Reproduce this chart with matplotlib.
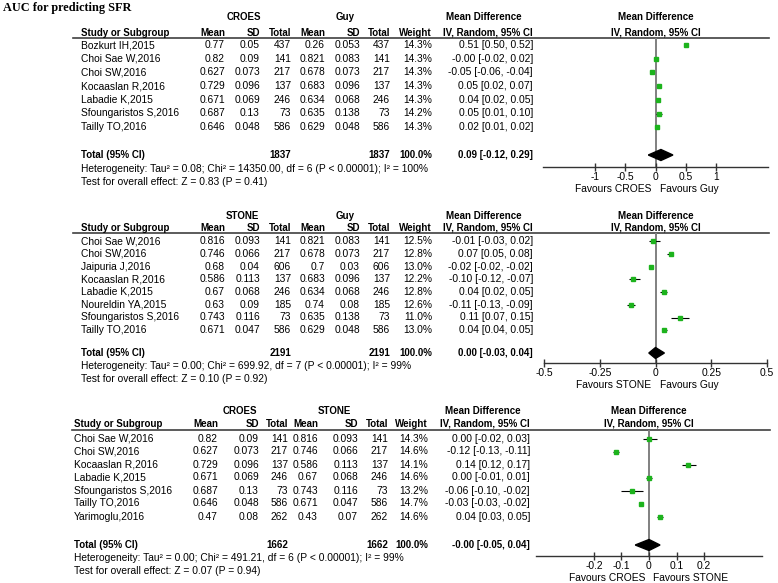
import numpy as np
import matplotlib.pyplot as plt
from matplotlib.patches import Polygon

plt.rcParams['font.family'] = ['Liberation Sans', 'DejaVu Sans']

W, H = 778, 583
GREEN = '#1db31d'

title = 'AUC for predicting SFR'

# ---- panel 1: CROES vs Guy
p1_groups = ['CROES', 'Guy']
p1_studies = ['Bozkurt IH,2015', 'Choi Sae W,2016', 'Choi SW,2016', 'Kocaaslan R,2016',
              'Labadie K,2015', 'Sfoungaristos S,2016', 'Tailly TO,2016']
p1_mean1 = [0.77, 0.82, 0.627, 0.729, 0.671, 0.687, 0.646]
p1_sd1 = [0.05, 0.09, 0.073, 0.096, 0.069, 0.13, 0.048]
p1_n1 = [437, 141, 217, 137, 246, 73, 586]
p1_mean2 = [0.26, 0.821, 0.678, 0.683, 0.634, 0.635, 0.629]
p1_sd2 = [0.053, 0.083, 0.073, 0.096, 0.068, 0.138, 0.048]
p1_n2 = [437, 141, 217, 137, 246, 73, 586]
p1_weight = [14.3, 14.3, 14.3, 14.3, 14.3, 14.2, 14.3]
p1_md = [0.51, -0.0, -0.05, 0.05, 0.04, 0.05, 0.02]
p1_lo = [0.50, -0.02, -0.06, 0.02, 0.02, 0.01, 0.01]
p1_hi = [0.52, 0.02, -0.04, 0.07, 0.05, 0.10, 0.02]
p1_total = [0.09, -0.12, 0.29]
p1_total_n = [1837, 1837]
p1_het = 'Heterogeneity: Tau\u00b2 = 0.08; Chi\u00b2 = 14350.00, df = 6 (P < 0.00001); I\u00b2 = 100%'
p1_test = 'Test for overall effect: Z = 0.83 (P = 0.41)'
p1_ticks = [-1, -0.5, 0, 0.5, 1]
p1_ticklabels = ['-1', '-0.5', '0', '0.5', '1']

# ---- panel 2: STONE vs Guy
p2_groups = ['STONE', 'Guy']
p2_studies = ['Choi Sae W,2016', 'Choi SW,2016', 'Jaipuria J,2016', 'Kocaaslan R,2016',
              'Labadie K,2015', 'Noureldin YA,2015', 'Sfoungaristos S,2016', 'Tailly TO,2016']
p2_mean1 = [0.816, 0.746, 0.68, 0.586, 0.67, 0.63, 0.743, 0.671]
p2_sd1 = [0.093, 0.066, 0.04, 0.113, 0.068, 0.09, 0.116, 0.047]
p2_n1 = [141, 217, 606, 137, 246, 185, 73, 586]
p2_mean2 = [0.821, 0.678, 0.7, 0.683, 0.634, 0.74, 0.635, 0.629]
p2_sd2 = [0.083, 0.073, 0.03, 0.096, 0.068, 0.08, 0.138, 0.048]
p2_n2 = [141, 217, 606, 137, 246, 185, 73, 586]
p2_weight = [12.5, 12.8, 13.0, 12.2, 12.8, 12.6, 11.0, 13.0]
p2_md = [-0.01, 0.07, -0.02, -0.10, 0.04, -0.11, 0.11, 0.04]
p2_lo = [-0.03, 0.05, -0.02, -0.12, 0.02, -0.13, 0.07, 0.04]
p2_hi = [0.02, 0.08, -0.02, -0.07, 0.05, -0.09, 0.15, 0.05]
p2_total = [0.00, -0.03, 0.04]
p2_total_n = [2191, 2191]
p2_het = 'Heterogeneity: Tau\u00b2 = 0.00; Chi\u00b2 = 699.92, df = 7 (P < 0.00001); I\u00b2 = 99%'
p2_test = 'Test for overall effect: Z = 0.10 (P = 0.92)'
p2_ticks = [-0.5, -0.25, 0, 0.25, 0.5]
p2_ticklabels = ['-0.5', '-0.25', '0', '0.25', '0.5']

# ---- panel 3: CROES vs STONE
p3_groups = ['CROES', 'STONE']
p3_studies = ['Choi Sae W,2016', 'Choi SW,2016', 'Kocaaslan R,2016', 'Labadie K,2015',
              'Sfoungaristos S,2016', 'Tailly TO,2016', 'Yarimoglu,2016']
p3_mean1 = [0.82, 0.627, 0.729, 0.671, 0.687, 0.646, 0.47]
p3_sd1 = [0.09, 0.073, 0.096, 0.069, 0.13, 0.048, 0.08]
p3_n1 = [141, 217, 137, 246, 73, 586, 262]
p3_mean2 = [0.816, 0.746, 0.586, 0.67, 0.743, 0.671, 0.43]
p3_sd2 = [0.093, 0.066, 0.113, 0.068, 0.116, 0.047, 0.07]
p3_n2 = [141, 217, 137, 246, 73, 586, 262]
p3_weight = [14.3, 14.6, 14.1, 14.6, 13.2, 14.7, 14.6]
p3_md = [0.00, -0.12, 0.14, 0.00, -0.06, -0.03, 0.04]
p3_lo = [-0.02, -0.13, 0.12, -0.01, -0.10, -0.03, 0.03]
p3_hi = [0.03, -0.11, 0.17, 0.01, -0.02, -0.02, 0.05]
p3_total = [-0.0, -0.05, 0.04]
p3_total_n = [1662, 1662]
p3_het = 'Heterogeneity: Tau\u00b2 = 0.00; Chi\u00b2 = 491.21, df = 6 (P < 0.00001); I\u00b2 = 99%'
p3_test = 'Test for overall effect: Z = 0.07 (P = 0.94)'
p3_ticks = [-0.2, -0.1, 0, 0.1, 0.2]
p3_ticklabels = ['-0.2', '-0.1', '0', '0.1', '0.2']

# layout in pixels (y measured from top)
lay1 = dict(grp_y=17, head_y=32.5, line_y=37.5, row0=45, step=13.7, total_y=155,
            het_y=169, test_y=182, axis_y=167, ax_x=(543, 768), xlim=(-1.87, 1.87),
            study_x=81, cols=[225, 260, 291, 325, 360, 390, 432, 533],
            grp_x=[244, 345], md_x=484, line_x=(73, 769))
lay2 = dict(grp_y=216, head_y=228, line_y=232.5, row0=241, step=12.75, total_y=353,
            het_y=366, test_y=379, axis_y=363, ax_x=(544, 767), xlim=(-0.5, 0.5),
            study_x=81, cols=[225, 260, 291, 325, 360, 390, 432, 533],
            grp_x=[242, 345], md_x=484, line_x=(73, 769))
lay3 = dict(grp_y=411.5, head_y=424, line_y=430, row0=438.5, step=13, total_y=545,
            het_y=558, test_y=571, axis_y=556, ax_x=(536, 762), xlim=(-0.41, 0.41),
            study_x=74, cols=[218, 259, 288, 318, 358, 388, 428, 530],
            grp_x=[240, 334], md_x=483, line_x=(72, 770))

fig = plt.figure(figsize=(W / 100, H / 100), dpi=100)
bg = fig.add_axes([0, 0, 1, 1])
bg.set_xlim(0, W)
bg.set_ylim(H, 0)
bg.axis('off')

FS = 7.35   # regular text
FB = 7.0    # bold headers
bg.text(3, 8, title, family=['Liberation Serif', 'DejaVu Serif'], fontsize=8.8,
        fontweight='bold', va='center', ha='left')


def draw_panel(L, groups, studies, m1, s1, n1, m2, s2, n2, wt, md, lo, hi,
               total, total_n, het, test, ticks, ticklabels):
    c = L['cols']
    # group headers
    bg.text(L['grp_x'][0], L['grp_y'], groups[0], fontsize=FB, fontweight='bold', ha='center', va='center')
    bg.text(L['grp_x'][1], L['grp_y'], groups[1], fontsize=FB, fontweight='bold', ha='center', va='center')
    bg.text(L['md_x'], L['grp_y'], 'Mean Difference', fontsize=FB, fontweight='bold', ha='center', va='center')
    heads = ['Mean', 'SD', 'Total', 'Mean', 'SD', 'Total', 'Weight', 'IV, Random, 95% CI']
    bg.text(L['study_x'], L['head_y'], 'Study or Subgroup', fontsize=FB, fontweight='bold', va='center')
    for x, h in zip(c, heads):
        bg.text(x, L['head_y'], h, fontsize=FB, fontweight='bold', ha='right', va='center')
    bg.plot(L['line_x'], [L['line_y'], L['line_y']], color='#404040', lw=1.2)

    for i, s in enumerate(studies):
        y = L['row0'] + i * L['step']
        vals = [str(m1[i]), str(s1[i]), str(n1[i]), str(m2[i]), str(s2[i]), str(n2[i]),
                f'{wt[i]:.1f}%', f'{md[i]:.2f} [{lo[i]:.2f}, {hi[i]:.2f}]']
        bg.text(L['study_x'], y, s, fontsize=FS, va='center')
        for x, v in zip(c, vals):
            bg.text(x, y, v, fontsize=FS, ha='right', va='center')

    ty = L['total_y']
    bg.text(L['study_x'], ty, 'Total (95% CI)', fontsize=FB, fontweight='bold', va='center')
    bg.text(c[2], ty, str(total_n[0]), fontsize=FB, fontweight='bold', ha='right', va='center')
    bg.text(c[5], ty, str(total_n[1]), fontsize=FB, fontweight='bold', ha='right', va='center')
    bg.text(c[6], ty, '100.0%', fontsize=FB, fontweight='bold', ha='right', va='center')
    bg.text(c[7], ty, f'{total[0]:.2f} [{total[1]:.2f}, {total[2]:.2f}]', fontsize=FB,
            fontweight='bold', ha='right', va='center')
    bg.text(L['study_x'], L['het_y'], het, fontsize=FS, va='center')
    bg.text(L['study_x'], L['test_y'], test, fontsize=FS, va='center')

    # forest plot
    x0, x1 = L['ax_x']
    ax = fig.add_axes([x0 / W, 1 - L['axis_y'] / H, (x1 - x0) / W, (L['axis_y'] - L['line_y']) / H])
    ax.set_xlim(*L['xlim'])
    ax.set_ylim(L['axis_y'], L['line_y'])
    ax.patch.set_alpha(0)
    for sp in ['top', 'left', 'right']:
        ax.spines[sp].set_visible(False)
    ax.spines['bottom'].set_color('#333333')
    ax.spines['bottom'].set_linewidth(1.0)
    ax.set_yticks([])
    ax.set_xticks(ticks)
    ax.set_xticklabels(ticklabels)
    ax.tick_params(axis='x', direction='inout', length=6, width=1.0, color='#333333',
                   labelsize=FS, pad=0.8)
    ax.axvline(0, color='#808080', lw=1.4, zorder=1)

    ys = L['row0'] + np.arange(len(studies)) * L['step']
    ax.hlines(ys, lo, hi, color='black', lw=0.8, zorder=2)
    ax.plot(md, ys, 's', color=GREEN, ms=3.2, mec=GREEN, zorder=3)

    h = 5.5
    dia = Polygon([(total[1], ty), (total[0], ty - h), (total[2], ty), (total[0], ty + h)],
                  closed=True, facecolor='black', edgecolor='black', zorder=4)
    ax.add_patch(dia)

    mid = (x0 + x1) / 2
    bg.text(mid, L['grp_y'], 'Mean Difference', fontsize=FB, fontweight='bold', ha='center', va='center')
    bg.text(mid, L['head_y'], 'IV, Random, 95% CI', fontsize=FB, fontweight='bold', ha='center', va='center')

    ax.annotate('Favours ' + groups[0], xy=(0, 0), xycoords=('data', 'axes fraction'),
                xytext=(-4, -22), textcoords='offset pixels', ha='right', va='center', fontsize=FS)
    ax.annotate('Favours ' + groups[1], xy=(0, 0), xycoords=('data', 'axes fraction'),
                xytext=(4, -22), textcoords='offset pixels', ha='left', va='center', fontsize=FS)
    return ax


draw_panel(lay1, p1_groups, p1_studies, p1_mean1, p1_sd1, p1_n1, p1_mean2, p1_sd2, p1_n2,
           p1_weight, p1_md, p1_lo, p1_hi, p1_total, p1_total_n, p1_het, p1_test,
           p1_ticks, p1_ticklabels)
draw_panel(lay2, p2_groups, p2_studies, p2_mean1, p2_sd1, p2_n1, p2_mean2, p2_sd2, p2_n2,
           p2_weight, p2_md, p2_lo, p2_hi, p2_total, p2_total_n, p2_het, p2_test,
           p2_ticks, p2_ticklabels)
draw_panel(lay3, p3_groups, p3_studies, p3_mean1, p3_sd1, p3_n1, p3_mean2, p3_sd2, p3_n2,
           p3_weight, p3_md, p3_lo, p3_hi, p3_total, p3_total_n, p3_het, p3_test,
           p3_ticks, p3_ticklabels)

fig.savefig('out.png', dpi=100)
